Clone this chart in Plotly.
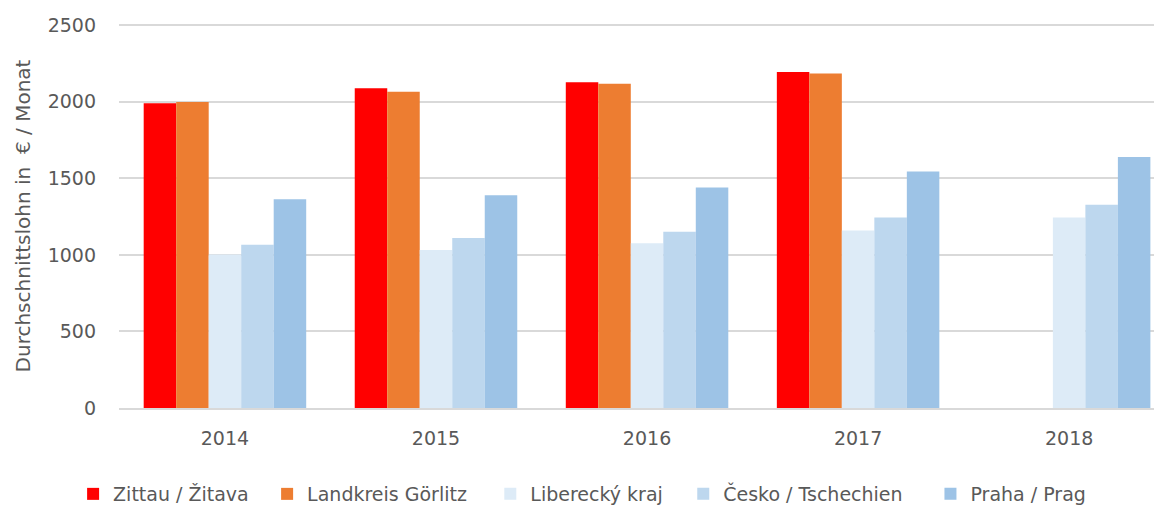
import plotly.graph_objects as go

years = ["2014", "2015", "2016", "2017", "2018"]
series_names = ["Zittau / Žitava", "Landkreis Görlitz", "Liberecký kraj", "Česko / Tschechien", "Praha / Prag"]
zittau = [1990, 2089, 2127, 2194, None]
goerlitz = [1998, 2065, 2118, 2185, None]
liberec = [1002, 1032, 1076, 1160, 1244]
cesko = [1066, 1110, 1151, 1244, 1328]
praha = [1363, 1389, 1440, 1544, 1640]
y_ticks = [0, 500, 1000, 1500, 2000, 2500]

colors = ["#FF0000", "#ED7D31", "#DDEBF7", "#BDD7EE", "#9DC3E6"]
values = [zittau, goerlitz, liberec, cesko, praha]
legend_x = [-0.044, 0.142, 0.356, 0.541, 0.778]

FONT = "DejaVu Sans, sans-serif"
TXT = "#595959"

fig = go.Figure()
legend_layouts = {}
for i, (name, vals, col) in enumerate(zip(series_names, values, colors)):
    key = "legend" if i == 0 else f"legend{i + 1}"
    fig.add_trace(go.Bar(x=years, y=vals, name=name, legend=key,
                         marker=dict(color=col, line=dict(width=0))))
    legend_layouts[key] = dict(orientation="h", x=legend_x[i], xanchor="left",
                               y=-0.224, yanchor="middle", bgcolor="rgba(0,0,0,0)",
                               font=dict(family=FONT, size=19, color=TXT), itemwidth=30)

fig.update_layout(
    width=1154, height=498,
    paper_bgcolor="white", plot_bgcolor="white",
    barmode="group", bargap=0.23, bargroupgap=0,
    margin=dict(l=111, r=0, t=16, b=98, autoexpand=False),
    font=dict(family=FONT, size=19, color=TXT),
    showlegend=True,
    xaxis=dict(type="category", range=[-0.502, 4.44], showgrid=False, showline=True,
               linecolor="#d9d9d9", linewidth=1.5, ticks="", ticklabelstandoff=12,
               automargin=False, tickfont=dict(size=19, color=TXT)),
    yaxis=dict(range=[0, 2508], tickvals=y_ticks, showgrid=True, gridcolor="#d9d9d9",
               gridwidth=1.5, zeroline=False, showline=False, ticks="",
               ticklabelstandoff=22, automargin=False, tickfont=dict(size=19, color=TXT),
               title=dict(text="Durchschnittslohn in  € / Monat", font=dict(size=20, color=TXT),
                          standoff=11)),
    **legend_layouts,
)

fig.write_html("out.html")
